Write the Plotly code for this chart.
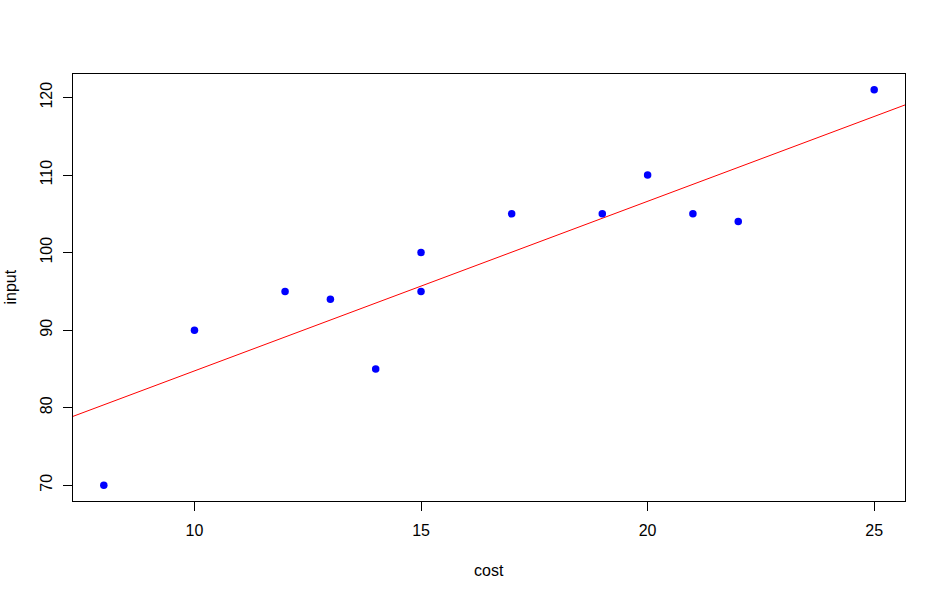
import numpy as np
import plotly.graph_objects as go

cost = [8, 10, 12, 13, 14, 15, 15, 17, 19, 20, 21, 22, 25]
input_vals = [70, 90, 95, 94, 85, 100, 95, 105, 105, 110, 105, 104, 121]
x_ticks = [10, 15, 20, 25]
y_ticks = [70, 80, 90, 100, 110, 120]
# fitted line coefficients
fit_intercept = 62.86
fit_slope = 2.188

x_line = np.array([6.0, 27.0])
y_line = fit_intercept + fit_slope * x_line

fig = go.Figure()
fig.add_trace(go.Scatter(x=x_line, y=y_line, mode="lines",
                         line=dict(color="red", width=1), showlegend=False, hoverinfo="skip"))
fig.add_trace(go.Scatter(x=cost, y=input_vals, mode="markers",
                         marker=dict(color="blue", size=7.5, line=dict(width=0)),
                         showlegend=False))

font = dict(family="Liberation Sans, Arial, sans-serif", size=16, color="black")
fig.update_layout(
    width=932, height=591,
    margin=dict(l=73, r=27, t=74, b=90),
    paper_bgcolor="white", plot_bgcolor="white",
    font=font,
    xaxis=dict(range=[7.32, 25.68], tickvals=x_ticks, ticks="outside", ticklen=9,
               tickcolor="black", tickwidth=1, showline=True, linecolor="black", linewidth=1,
               mirror=True, showgrid=False, zeroline=False, ticklabelstandoff=6),
    yaxis=dict(range=[67.96, 123.04], tickvals=y_ticks, ticks="outside", ticklen=9,
               tickcolor="black", tickwidth=1, showline=True, linecolor="black", linewidth=1,
               mirror=True, showgrid=False, zeroline=False, tickangle=-90, ticklabelstandoff=5),
    annotations=[
        dict(text="cost", xref="paper", yref="paper", x=0.5, y=0, yshift=-69,
             showarrow=False, font=font, xanchor="center", yanchor="middle"),
        dict(text="input", xref="paper", yref="paper", x=0, y=0.5, xshift=-63,
             showarrow=False, font=font, textangle=-90, xanchor="center", yanchor="middle"),
    ],
)
fig.write_html("out.html", config={"displayModeBar": False},
               post_script="document.body.style.margin='0';")
